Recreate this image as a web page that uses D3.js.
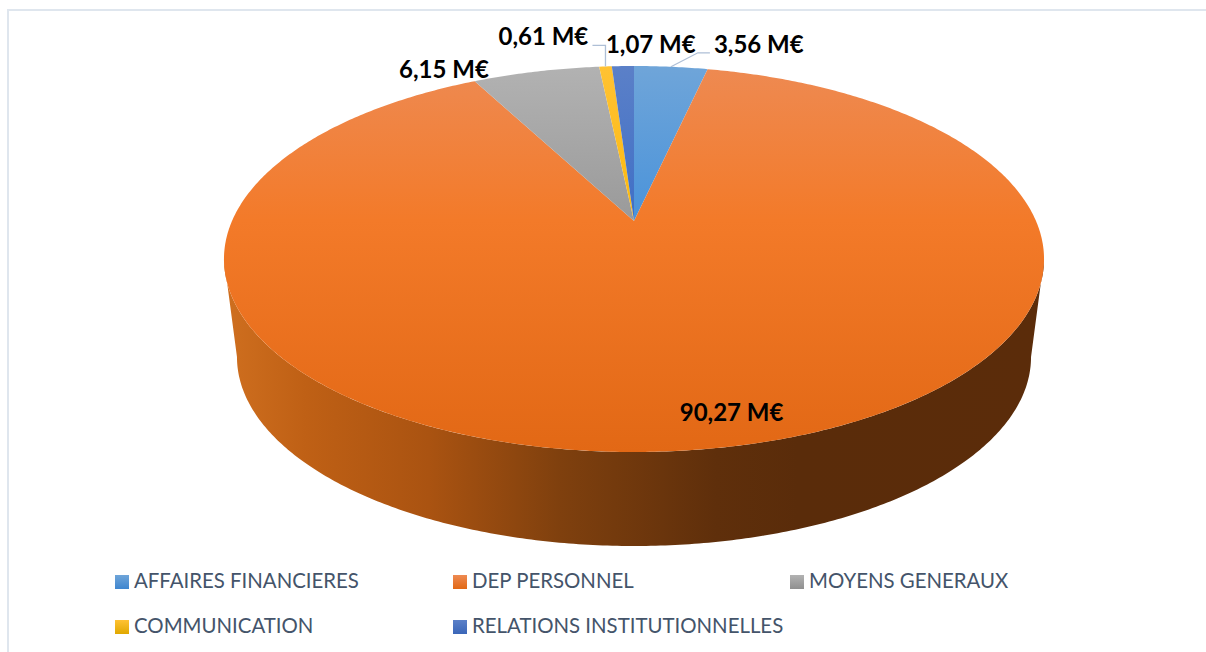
<!DOCTYPE html>
<html>
<head>
<meta charset="utf-8">
<script src="https://cdn.jsdelivr.net/npm/d3@7"></script>
<style>
html, body { margin: 0; padding: 0; background: #fff; overflow: hidden; }
svg { display: block; }
</style>
</head>
<body>
<div id="chart"></div>
<script>
const categories = ["AFFAIRES FINANCIERES", "DEP PERSONNEL", "MOYENS GENERAUX", "COMMUNICATION", "RELATIONS INSTITUTIONNELLES"];
const values = [3.56, 90.27, 6.15, 0.61, 1.07];
const topColors = ["#6fa5d9", "#ee8a52", "#b2b2b2", "#ffc233", "#5b80c8"];
const midColors = ["#4a93da", "#f37a29", "#9a9a9a", "#fbb90e", "#3f6fc6"];
const lowColors = ["#3f86cf", "#e26815", "#8f8f8f", "#e0a800", "#3a66b8"];

const width = 1206;
const height = 652;

const svg = d3.select("#chart").append("svg").attr("width", width).attr("height", height);
const defs = svg.append("defs");

// the pie is tilted: centre of the disc is not the centre of the ellipse
const cx = 634, cy = 221;
const persp = -0.1969, yScale = 142, xScale = 402;
function rim(a) {
  const u = Math.sin(a), v = -Math.cos(a);
  const den = 1 + persp * v;
  return [cx + xScale * u / den, (yScale * v + cy) / den];
}
// lower edge of the side wall
function lower(p) {
  return [cx + (p[0] - cx) * 397 / 410, 357 + (p[1] - 259) * 189 / 193];
}
const line = d3.line();
function rimPoints(a0, a1) {
  const n = Math.max(4, Math.ceil((a1 - a0) / 0.01));
  return d3.range(n + 1).map(i => rim(a0 + (a1 - a0) * i / n));
}

const pie = d3.pie().sort(null).value(d => d);
const slices = pie(values);

// gradients
categories.forEach(function(c, i) {
  const g = defs.append("linearGradient").attr("id", "top" + i)
    .attr("gradientUnits", "userSpaceOnUse")
    .attr("x1", 0).attr("x2", 0).attr("y1", 66).attr("y2", 452);
  g.append("stop").attr("offset", 0).attr("stop-color", topColors[i]);
  g.append("stop").attr("offset", 0.4).attr("stop-color", midColors[i]);
  g.append("stop").attr("offset", 1).attr("stop-color", lowColors[i]);
  const k = defs.append("linearGradient").attr("id", "key" + i)
    .attr("x1", 0).attr("x2", 0).attr("y1", 0).attr("y2", 1);
  k.append("stop").attr("offset", 0).attr("stop-color", topColors[i]);
  k.append("stop").attr("offset", 1).attr("stop-color", lowColors[i]);
});
const wall = defs.append("linearGradient").attr("id", "wall")
  .attr("gradientUnits", "userSpaceOnUse")
  .attr("x1", 224).attr("x2", 1044).attr("y1", 0).attr("y2", 0);
[[0, "#cf6f1f"], [0.1, "#bf6015"], [0.25, "#aa5311"], [0.41, "#7f400e"], [0.6, "#5f2f0b"], [0.7, "#5a2c0a"], [1, "#5b2c0a"]]
  .forEach(s => wall.append("stop").attr("offset", s[0]).attr("stop-color", s[1]));

// frame
svg.append("path").attr("d", "M8,652V10H1206").attr("fill", "none")
  .attr("stroke", "#dfe6ee").attr("stroke-width", 2);

// side wall of the big slice, only the part between the two widest points faces the viewer
const big = slices[1];
const widest = Math.acos(persp);
const wallRim = rimPoints(Math.max(big.startAngle, widest), Math.min(big.endAngle, 2 * Math.PI - widest));
svg.append("path")
  .attr("d", line(wallRim.concat(wallRim.map(lower).reverse())) + "Z")
  .attr("fill", "url(#wall)");

// top of the slices
svg.selectAll("path.slice").data(slices).enter().append("path")
  .attr("class", "slice")
  .attr("d", d => line([[cx, cy]].concat(rimPoints(d.startAngle, d.endAngle))) + "Z")
  .attr("fill", (d, i) => "url(#top" + i + ")");

// labels, offset from the rim point at the middle of each slice
const labelOffset = [[43, -14], [-20, -29], [-137, 6], [-107, -21], [-17, -13]];
const leaders = [[[27, -14], [39, -14]], null, null, [[0, -21], [-13, -21]], null];
const fmt = d3.format(".2f");

slices.forEach(function(d, i) {
  const p = rim((d.startAngle + d.endAngle) / 2);
  if (leaders[i]) {
    svg.append("path")
      .attr("d", line([p].concat(leaders[i].map(o => [p[0] + o[0], p[1] + o[1]]))))
      .attr("fill", "none").attr("stroke", "#aebfd6").attr("stroke-width", 1.3);
  }
  svg.append("text")
    .attr("x", p[0] + labelOffset[i][0])
    .attr("y", p[1] + labelOffset[i][1])
    .attr("font-family", "Lato, sans-serif")
    .attr("font-weight", 700)
    .attr("font-size", 24)
    .attr("fill", "#000")
    .text(fmt(values[i]).replace(".", ",") + " M€");
});

// legend
const legendCols = [115, 453, 790];
const legendRows = [575, 620];
categories.forEach(function(c, i) {
  const x = legendCols[i % 3], y = legendRows[Math.floor(i / 3)];
  svg.append("rect").attr("x", x).attr("y", y).attr("width", 14).attr("height", 14)
    .attr("fill", "url(#key" + i + ")");
  svg.append("text").attr("x", x + 19).attr("y", y + 13)
    .attr("font-family", "Lato, sans-serif")
    .attr("font-size", 20.4)
    .attr("fill", "#44546a")
    .text(c);
});
</script>
</body>
</html>
